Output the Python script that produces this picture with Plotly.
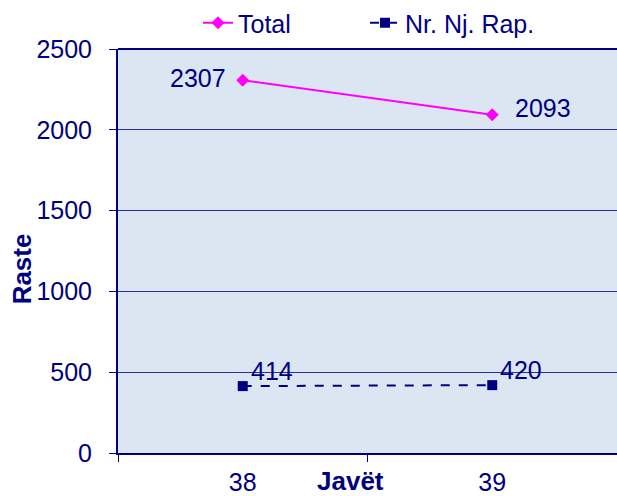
import plotly.graph_objects as go

weeks = ["38", "39"]
total = [2307, 2093]
nr_nj_rap = [414, 420]
y_ticks = [0, 500, 1000, 1500, 2000, 2500]

NAVY = "#000080"
FONT = "Arial, Liberation Sans, sans-serif"
FS = 25

fig = go.Figure()
fig.add_trace(go.Scatter(
    x=weeks, y=total, name="Total", mode="lines+markers",
    line=dict(color="#FF00FF", width=2),
    marker=dict(symbol="diamond", size=10, color="#FF00FF"),
))
fig.add_trace(go.Scatter(
    x=weeks, y=nr_nj_rap, name="Nr. Nj. Rap.", mode="lines+markers",
    line=dict(color=NAVY, width=2, dash="dash"),
    marker=dict(symbol="square", size=10, color=NAVY),
))

# data labels, placed from the data arrays (category index positions)
label_style = [
    dict(xanchor="right", yanchor="middle", xshift=-15, yshift=2),
    dict(xanchor="left", yanchor="middle", xshift=21, yshift=7),
]
for i, v in enumerate(total):
    fig.add_annotation(x=i, y=v, text=str(v), showarrow=False,
                       font=dict(size=FS, color=NAVY), **label_style[i])
for i, v in enumerate(nr_nj_rap):
    fig.add_annotation(x=i, y=v, text=str(v), showarrow=False,
                       font=dict(size=FS, color=NAVY),
                       xanchor="left", yanchor="middle", xshift=6, yshift=15)

fig.add_annotation(text="<b>Javët</b>", xref="paper", yref="paper",
                   x=0.465, y=-0.07, showarrow=False,
                   xanchor="center", yanchor="middle",
                   font=dict(size=26, color=NAVY))
fig.add_annotation(text="<b>Raste</b>", xref="paper", yref="paper",
                   x=-0.192, y=0.455, showarrow=False, textangle=-90,
                   xanchor="center", yanchor="middle",
                   font=dict(size=26, color=NAVY))

fig.update_layout(
    width=617, height=496,
    margin=dict(l=118, r=0, t=49, b=43, autoexpand=False),
    paper_bgcolor="white",
    plot_bgcolor="#DCE6F2",
    font=dict(family=FONT, color=NAVY, size=FS),
    showlegend=True,
    legend=dict(orientation="h", x=198 / 617, xref="container", y=1.0, yref="container",
                yanchor="top", xanchor="left", entrywidth=122,
                font=dict(size=FS, color=NAVY), bgcolor="rgba(0,0,0,0)"),
    xaxis=dict(
        type="category", range=[-0.5, 1.5], automargin=False,
        showline=True, linecolor=NAVY, linewidth=2,
        ticks="outside", tickson="boundaries", ticklen=7, tickcolor=NAVY,
        showgrid=False, ticklabelstandoff=6,
        tickfont=dict(size=FS, color=NAVY),
    ),
    yaxis=dict(
        range=[0, 2500], tickvals=y_ticks, automargin=False,
        showline=True, linecolor=NAVY, linewidth=2,
        ticks="outside", ticklen=7, tickcolor=NAVY,
        showgrid=True, gridcolor="#2E2E98", gridwidth=1,
        zeroline=False, ticklabelstandoff=12,
        tickfont=dict(size=FS, color=NAVY),
    ),
)
fig.add_shape(type="line", xref="paper", yref="paper", x0=0, x1=1, y0=1, y1=1,
              line=dict(color=NAVY, width=2))

fig.write_html("out.html", config={"displayModeBar": False},
               post_script="document.body.style.margin='0';document.body.style.overflow='hidden';")
